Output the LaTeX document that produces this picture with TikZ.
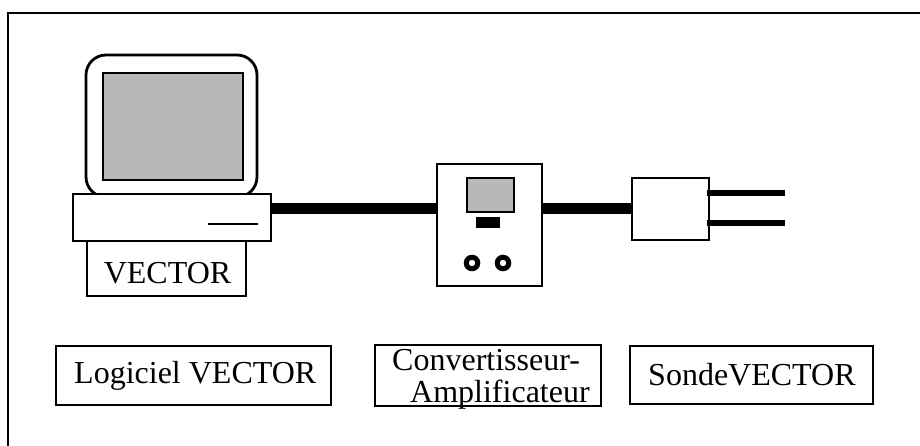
\documentclass[tikz,border=0pt]{standalone}
\usepackage{fontspec}
\setmainfont{Liberation Serif}
\definecolor{screengray}{gray}{0.72}
\begin{document}
\begin{tikzpicture}[x=1pt,y=-1pt,
  outline/.style={draw=black, line width=2.4pt, fill=white, inner sep=0pt},
  screenbox/.style={draw=black, line width=2.4pt, fill=screengray, inner sep=0pt},
  knob/.style={circle, draw=black, line width=5pt, inner sep=0pt, minimum size=11.5pt},
  cable/.style={line width=11pt, black},
  prong/.style={line width=6pt, black},
  labelbox/.style={outline},
  txt/.style={inner sep=0pt, font=\fontsize{32}{32}\selectfont},
]
\useasboundingbox (0,0) rectangle (920,446);

% outer frame (only top and left edges fall inside the page)
\draw[line width=2.5pt] (920,13) -- (8,13) -- (8,446);

% computer: monitor, screen, base unit and name plate
\node[outline, line width=2.8pt, rounded corners=20pt,
      minimum width=171pt, minimum height=142pt] (monitor) at (171.5,126) {};
\node[screenbox, minimum width=140pt, minimum height=107pt] (screen) at (173,126.5) {};
\node[outline, minimum width=198pt, minimum height=47pt] (base) at (172,217.5) {};
\draw[line width=2.2pt] (208,224) -- (258,224);
\node[outline, minimum width=159pt, minimum height=55pt] (plate) at (166.5,268.5) {};
\node[txt, anchor=base] (platetext) at (167.5,283) {VECTOR};

% converter-amplifier unit
\node[outline, minimum width=105pt, minimum height=122pt] (conv) at (489.5,225) {};
\node[screenbox, minimum width=47pt, minimum height=34pt] (convscreen) at (490.5,195) {};
\node[fill=black, inner sep=0pt, minimum width=24pt, minimum height=11pt] (convkey) at (488,222.5) {};
\node[knob] (knob1) at (472,263) {};
\node[knob] (knob2) at (503,263) {};

% probe
\node[outline, minimum width=77pt, minimum height=62pt] (probe) at (670.5,209) {};
\coordinate (tip1) at (785,193);
\coordinate (tip2) at (785,223);

% cables
\draw[cable] (base.east |- probe.west) -- (conv.west |- probe.west);
\draw[cable] (conv.east |- probe.west) -- (probe.west);
\draw[prong] ([xshift=-3pt]probe.east |- tip1) -- (tip1);
\draw[prong] ([xshift=-3pt]probe.east |- tip2) -- (tip2);

% captions
\node[labelbox, minimum width=275pt, minimum height=59pt] (lsoft) at (193.5,375.5) {};
\node[txt, anchor=base west] (lsofttext) at (74,383) {Logiciel VECTOR};

\node[labelbox, minimum width=226pt, minimum height=61pt] (lconv) at (488,375.5) {};
\node[txt, anchor=base west] (lconvtext1) at (392,370) {Convertisseur-};
\node[txt, anchor=base west] (lconvtext2) at (410,402) {Amplificateur};

\node[labelbox, minimum width=243pt, minimum height=58pt] (lprobe) at (751.5,375) {};
\node[txt, anchor=base west] (lprobetext) at (648,385) {SondeVECTOR};
\end{tikzpicture}
\end{document}
